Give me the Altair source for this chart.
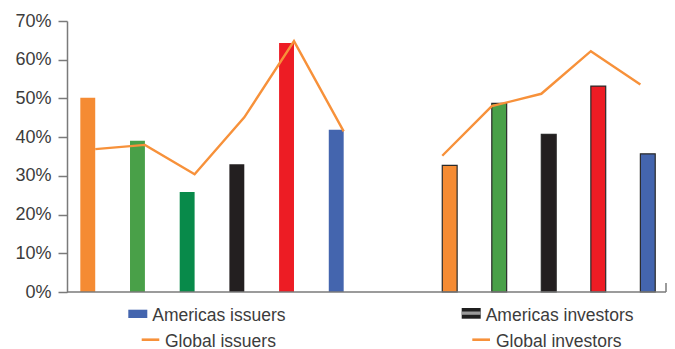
import altair as alt
import pandas as pd

# Share (%) by region, issuers panel
issuer_groups = ["Asia-Pacific", "Europe", "Middle East", "Africa", "Japan", "Americas"]
issuer_share = [50.2, 39.1, 25.8, 33.0, 64.3, 41.9]
global_issuer_share = [36.9, 38.0, 30.4, 45.1, 64.8, 41.5]

# Share (%) by region, investors panel
investor_groups = ["Asia-Pacific", "Europe", "Africa", "Japan", "Americas"]
investor_share = [32.7, 48.7, 40.7, 53.2, 35.7]
global_investor_share = [35.2, 48.0, 51.2, 62.2, 53.6]

y_ticks = [0, 10, 20, 30, 40, 50, 60, 70]
legend_labels = ["Americas issuers", "Global issuers", "Americas investors", "Global investors"]

issuer_colors = ["#F58B33", "#49A048", "#088A4A", "#231F20", "#ED1C24", "#4465AE"]
investor_colors = ["#F58B33", "#49A048", "#231F20", "#ED1C24", "#4465AE"]
LINE = "#F7913A"
AXIS = "#7a7a7a"
TEXT = "#3c3c3c"
FONT = "Liberation Sans"

W, H = 599, 271

issuers = pd.DataFrame({"group": issuer_groups, "share": issuer_share,
                        "global": global_issuer_share})
investors = pd.DataFrame({"group": investor_groups, "share": investor_share,
                          "global": global_investor_share})

y_scale = alt.Scale(domain=[0, 70], nice=False)
y_axis = alt.Axis(values=y_ticks, labelExpr="datum.value + '%'", title=None,
                  grid=False, domainColor=AXIS, domainWidth=1.5, tickColor=AXIS,
                  tickWidth=1.5, tickSize=9, labelFont=FONT, labelFontSize=18,
                  labelColor=TEXT, labelPadding=7, labelOverlap=False,
                  labelFlush=False)

left_scale = alt.Scale(range=[0, 290], paddingInner=0.7, paddingOuter=0.268)
right_scale = alt.Scale(range=[362, 601.5], paddingInner=0.7, paddingOuter=0.268)


def y_enc(field):
    return alt.Y(field, scale=y_scale, axis=y_axis)


# Issuers: bars plus the global line through the right edge of each band
issuer_bars = alt.Chart(issuers).mark_bar().encode(
    x=alt.X("group:N", sort=issuer_groups, axis=None, scale=left_scale),
    y=y_enc("share:Q"),
    color=alt.Color("group:N", scale=alt.Scale(domain=issuer_groups, range=issuer_colors),
                    legend=None),
)
issuer_line = alt.Chart(issuers).mark_line(color=LINE, strokeWidth=2.4).encode(
    x=alt.X("group:N", sort=issuer_groups, axis=None, scale=left_scale, bandPosition=1),
    y=y_enc("global:Q"),
)
issuer_layer = alt.layer(issuer_bars, issuer_line)

# Investors: outlined bars plus the global line through the left edge of each band
investor_bars = alt.Chart(investors).mark_bar(stroke="#2a2a2a", strokeWidth=1.2).encode(
    x=alt.X("group:N", sort=investor_groups, axis=None, scale=right_scale),
    y=y_enc("share:Q"),
    color=alt.Color("group:N", scale=alt.Scale(domain=investor_groups, range=investor_colors),
                    legend=None),
)
investor_line = alt.Chart(investors).mark_line(color=LINE, strokeWidth=2.4).encode(
    x=alt.X("group:N", sort=investor_groups, axis=None, scale=right_scale, bandPosition=0),
    y=y_enc("global:Q"),
)
investor_layer = alt.layer(investor_bars, investor_line)

one = pd.DataFrame({"k": [0]})

baseline = alt.Chart(one).mark_rule(color=AXIS, strokeWidth=1.5).encode(
    x=alt.value(0), x2=alt.value(W), y=alt.value(H))
end_tick = alt.Chart(one).mark_rule(color=AXIS, strokeWidth=1.5).encode(
    x=alt.value(W), y=alt.value(H - 9), y2=alt.value(H))

# Legend swatches and labels
sw_issuer = alt.Chart(one).mark_rect(color="#4465AE").encode(
    x=alt.value(61.3), x2=alt.value(80.3), y=alt.value(288.7), y2=alt.value(297))
sw_gi = alt.Chart(one).mark_rule(color=LINE, strokeWidth=2.6).encode(
    x=alt.value(74.7), x2=alt.value(92.3), y=alt.value(318.7))
sw_investor = alt.Chart(one).mark_rect(color="#1f1f1f").encode(
    x=alt.value(394.7), x2=alt.value(413.7), y=alt.value(287), y2=alt.value(297.7))
sw_investor_stripe = alt.Chart(one).mark_rect(color="#9a9a9a").encode(
    x=alt.value(394.7), x2=alt.value(413.7), y=alt.value(290.5), y2=alt.value(293.8))
sw_gv = alt.Chart(one).mark_rule(color=LINE, strokeWidth=2.6).encode(
    x=alt.value(405.3), x2=alt.value(423), y=alt.value(318.7))


def label(text, x, y):
    return alt.Chart(pd.DataFrame({"label": [text]})).mark_text(
        align="left", baseline="alphabetic", font=FONT, fontSize=17.5, color=TEXT
    ).encode(x=alt.value(x), y=alt.value(y), text="label:N")


labels = [
    label(legend_labels[0], 85.3, 299.5),
    label(legend_labels[1], 98, 325.5),
    label(legend_labels[2], 418.7, 299.5),
    label(legend_labels[3], 429, 325.5),
]

chart = alt.layer(
    issuer_layer, investor_layer, baseline, end_tick,
    sw_issuer, sw_gi, sw_investor, sw_investor_stripe, sw_gv, *labels
).resolve_scale(
    x="independent", color="independent"
).properties(
    width=W, height=H,
    autosize=alt.AutoSizeParams(type="none"),
    padding={"left": 67, "top": 21, "right": 9, "bottom": 57},
).configure_view(stroke=None)

chart.save("out.html", embed_options={"renderer": "svg", "actions": False})
